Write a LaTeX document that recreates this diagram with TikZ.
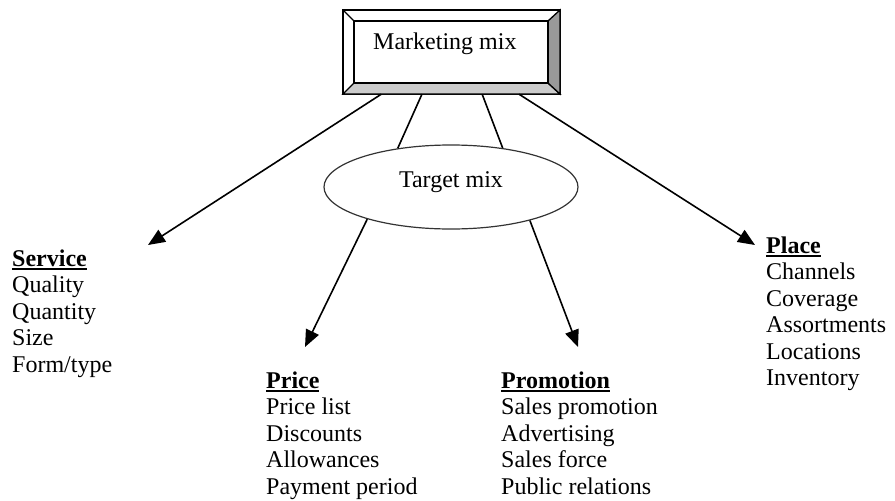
\documentclass[tikz,border=0pt]{standalone}
\usepackage{fontspec}
\setmainfont{Liberation Serif}
\usetikzlibrary{arrows.meta,shapes.geometric}
\definecolor{bevellight}{RGB}{204,204,204}
\definecolor{beveldark}{RGB}{153,153,153}
\newcommand{\mixhead}[1]{\vtop{\hbox{\textbf{#1}}\kern2pt\hrule height 2.2pt}}

\begin{document}
\begin{tikzpicture}[x=1pt,y=-1pt,
  every node/.style={font=\fontsize{24}{26.5}\selectfont, inner sep=0pt},
  list/.style={align=left, anchor=base west},
  link/.style={line width=1.6pt},
  arrow/.style={link, -{Triangle[length=17pt,width=14pt]}}]
  \useasboundingbox (0,0) rectangle (895,501);

  % marketing mix: bevelled box
  \node[minimum width=217pt, minimum height=84pt] (mix) at (451.5,52) {};
  \draw[line width=1.3pt, fill=white] (343,10) rectangle (560,94);
  \draw[line width=1.3pt, fill=bevellight] (343,94) -- (354,83) -- (548,83) -- (560,94) -- cycle;
  \draw[line width=1.3pt, fill=beveldark] (560,10) -- (548,21) -- (548,83) -- (560,94) -- cycle;
  \draw[line width=1.3pt] (343,10) -- (354,21);
  \draw[line width=2pt] (354,21) rectangle (548,83);
  \node[anchor=base west] (mixlabel) at (373,49) {Marketing mix};

  % target mix
  \node[ellipse, draw=black!80, line width=1.2pt, minimum width=254pt, minimum height=84pt,
        text height=16pt, text depth=16pt] (target) at (451,187) {Target mix};

  % arrow ends
  \coordinate (servicetip) at (148,245);
  \coordinate (placetip) at (755,245);
  \coordinate (pricetip) at (305,347);
  \coordinate (promotiontip) at (578,347);

  % connectors
  \draw[arrow] (mix.211.5) -- (servicetip);
  \draw[link] (mix.235) -- (target.144);
  \draw[link] (mix.306) -- (target.37);
  \draw[arrow] (mix.328.5) -- (placetip);
  \draw[arrow] (target.201) -- (pricetip);
  \draw[arrow] (target.337) -- (promotiontip);

  % the four P lists (base = last line)
  \node[list] (service) at (12,372) {\mixhead{Service}\\Quality\\Quantity\\Size\\Form/type};
  \node[list] (price) at (266,494) {\mixhead{Price}\\Price list\\Discounts\\Allowances\\Payment period};
  \node[list] (promotion) at (501,494) {\mixhead{Promotion}\\Sales promotion\\Advertising\\Sales force\\Public relations};
  \node[list] (place) at (766,385.5) {\mixhead{Place}\\Channels\\Coverage\\Assortments\\Locations\\Inventory};
\end{tikzpicture}
\end{document}
